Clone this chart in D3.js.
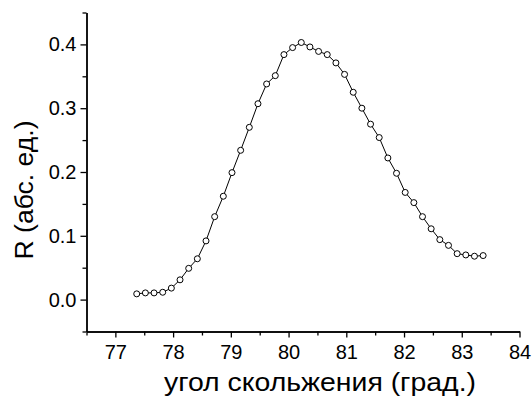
<!DOCTYPE html>
<html>
<head>
<meta charset="utf-8">
<title>R vs angle</title>
<style>
  body { margin: 0; background: #fff; }
  svg text { font-family: "Liberation Sans", Arial, sans-serif; fill: #000; }
</style>
</head>
<body>
<div id="chart"></div>
<script src="https://d3js.org/d3.v7.min.js"></script>
<script>
// angle (deg) and reflectivity values
const angles = [77.37, 77.52, 77.67, 77.82, 77.97, 78.12, 78.27, 78.42, 78.57, 78.72,
                78.87, 79.02, 79.17, 79.32, 79.47, 79.62, 79.77, 79.92, 80.07, 80.22,
                80.37, 80.52, 80.67, 80.82, 80.97, 81.12, 81.27, 81.42, 81.57, 81.72,
                81.87, 82.02, 82.17, 82.32, 82.47, 82.62, 82.77, 82.92, 83.07, 83.22, 83.37];
const reflect = [0.009, 0.0105, 0.0105, 0.0115, 0.018, 0.031, 0.049, 0.064, 0.092, 0.130,
                 0.162, 0.199, 0.234, 0.270, 0.307, 0.338, 0.351, 0.384, 0.395, 0.403,
                 0.396, 0.389, 0.384, 0.371, 0.353, 0.325, 0.300, 0.275, 0.254, 0.222,
                 0.198, 0.168, 0.152, 0.130, 0.111, 0.094, 0.085, 0.072, 0.070, 0.068, 0.069];

const xTicks = [77, 78, 79, 80, 81, 82, 83, 84];
const xMinor = [76.5, 77.5, 78.5, 79.5, 80.5, 81.5, 82.5, 83.5];
const yTicks = [0.0, 0.1, 0.2, 0.3, 0.4];
const yMinor = [-0.05, 0.05, 0.15, 0.25, 0.35, 0.45];

const xTitle = "угол скольжения (град.)";
const yTitle = "R (абс. ед.)";

const W = 532, H = 398;
const plotL = 86.5, plotR = 519.5, plotT = 12.5, plotB = 331.5;

const svg = d3.select("#chart").append("svg")
    .attr("width", W)
    .attr("height", H);

const x = d3.scaleLinear().domain([76.5, 84]).range([plotL, plotR]);
const y = d3.scaleLinear().domain([-0.05, 0.45]).range([plotB, plotT]);

// x axis: major + minor ticks
const gx = svg.append("g").attr("transform", `translate(0, ${plotB})`);
gx.call(d3.axisBottom(x).tickValues(xTicks).tickSize(6).tickPadding(7).tickSizeOuter(0).tickFormat(d3.format("d")));
gx.append("g").call(d3.axisBottom(x).tickValues(xMinor).tickSize(4).tickSizeOuter(0).tickFormat(""));

// y axis
const gy = svg.append("g").attr("transform", `translate(${plotL}, 0)`);
gy.call(d3.axisLeft(y).tickValues(yTicks).tickSize(6).tickPadding(4).tickSizeOuter(0).tickFormat(d3.format(".1f")));
gy.append("g").call(d3.axisLeft(y).tickValues(yMinor).tickSize(4).tickSizeOuter(0).tickFormat(""));

svg.selectAll(".domain").attr("stroke", "#000").attr("stroke-width", 1.4);
svg.selectAll(".tick line").attr("stroke", "#000").attr("stroke-width", 1.3);
svg.selectAll(".tick text")
    .attr("fill", "#000")
    .style("font-family", '"Liberation Sans", Arial, sans-serif')
    .style("font-size", "20px");

// line through the points
const pts = angles.map((a, i) => ({ a: a, r: reflect[i] }));

svg.append("path")
    .datum(pts)
    .attr("fill", "none")
    .attr("stroke", "#000")
    .attr("stroke-width", 1)
    .attr("d", d3.line().x(d => x(d.a)).y(d => y(d.r)));

svg.append("g")
    .selectAll("circle")
    .data(pts)
    .join("circle")
    .attr("cx", d => x(d.a))
    .attr("cy", d => y(d.r))
    .attr("r", 3)
    .attr("fill", "#fff")
    .attr("stroke", "#000")
    .attr("stroke-width", 1);

// titles
svg.append("text")
    .attr("x", 320)
    .attr("y", 391)
    .attr("text-anchor", "middle")
    .attr("textLength", 312)
    .attr("lengthAdjust", "spacingAndGlyphs")
    .style("font-size", "26px")
    .text(xTitle);

svg.append("text")
    .attr("transform", "translate(33, 190) rotate(-90)")
    .attr("text-anchor", "middle")
    .attr("textLength", 139)
    .attr("lengthAdjust", "spacingAndGlyphs")
    .style("font-size", "26px")
    .text(yTitle);
</script>
</body>
</html>
